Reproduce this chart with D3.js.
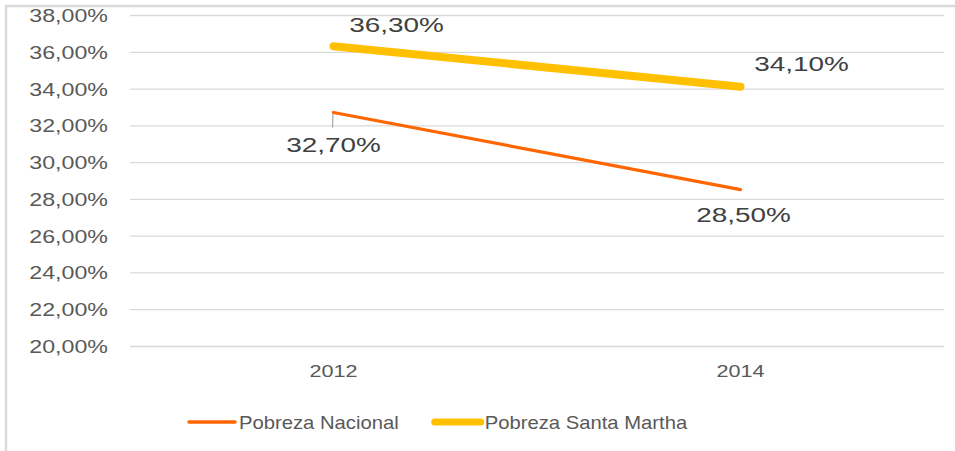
<!DOCTYPE html>
<html>
<head>
<meta charset="utf-8">
<script src="https://cdn.jsdelivr.net/npm/d3@7"></script>
<style>
  html, body { margin: 0; padding: 0; background: #fff; }
  svg { display: block; font-family: "Liberation Sans", Arial, sans-serif; }
</style>
</head>
<body>
<div id="chart"></div>
<script>
( function () {
	'use strict';

	// ─── Data ────────────────────────────────────────────────────────────────
	var years      = [ '2012', '2014' ];
	var nacional   = [ 0.327, 0.285 ];
	var santaMarta = [ 0.363, 0.341 ];
	var yTicks     = [ 0.20, 0.22, 0.24, 0.26, 0.28, 0.30, 0.32, 0.34, 0.36, 0.38 ];
	var seriesNames = [ 'Pobreza Nacional', 'Pobreza Santa Martha' ];

	var COLORS = {
		nacional: '#ff6600',
		santa:    '#ffc000',
		grid:     '#d9d9d9',
		frame:    '#d9d9d9',
		text:     '#595959',
		textDk:   '#404040'
	};

	var width = 955, height = 451;
	var plot = { left: 130, right: 944, top: 15, bottom: 346 };

	var svg = d3.select( '#chart' ).append( 'svg' )
		.attr( 'width', width )
		.attr( 'height', height );

	// frame (top + left edges only visible)
	svg.append( 'line' ).attr( 'x1', 5 ).attr( 'x2', width ).attr( 'y1', 6 ).attr( 'y2', 6 )
		.attr( 'stroke', COLORS.frame ).attr( 'stroke-width', 2.5 );
	svg.append( 'line' ).attr( 'x1', 6 ).attr( 'x2', 6 ).attr( 'y1', 5 ).attr( 'y2', height )
		.attr( 'stroke', COLORS.frame ).attr( 'stroke-width', 2.5 );

	var x = d3.scaleBand().domain( years ).range( [ plot.left, plot.right ] );
	var y = d3.scaleLinear().domain( [ 0.20, 0.38 ] ).range( [ plot.bottom, plot.top ] );
	var fmt = function ( v ) { return d3.format( '.2f' )( v * 100 ).replace( '.', ',' ) + '%'; };
	function cx( d ) { return x( d ) + x.bandwidth() / 2; }

	// ─── Y grid + axis ──────────────────────────────────────────────────────
	svg.append( 'g' )
		.attr( 'transform', 'translate(' + plot.left + ',0)' )
		.call( d3.axisLeft( y ).tickValues( yTicks ).tickSize( -( plot.right - plot.left ) ).tickFormat( fmt ) )
		.call( function ( s ) {
			s.select( '.domain' ).remove();
			s.selectAll( 'line' ).attr( 'stroke', COLORS.grid ).attr( 'stroke-width', 1.3 );
			s.selectAll( 'text' )
				.attr( 'x', 0 )
				.attr( 'dy', '0.36em' )
				.attr( 'transform', 'translate(-22,0) scale(1.29,1)' )
				.attr( 'fill', COLORS.text )
				.style( 'font-size', '18px' )
				.style( 'font-family', '"Liberation Sans", Arial, sans-serif' );
		} );

	// ─── X axis labels ──────────────────────────────────────────────────────
	svg.append( 'g' )
		.attr( 'transform', 'translate(0,' + plot.bottom + ')' )
		.call( d3.axisBottom( x ).tickSize( 0 ).tickPadding( 0 ) )
		.call( function ( s ) {
			s.select( '.domain' ).remove();
			s.selectAll( 'text' )
				.attr( 'y', 0 )
				.attr( 'dy', 0 )
				.attr( 'transform', 'translate(0,31) scale(1.35,1)' )
				.attr( 'fill', COLORS.text )
				.style( 'font-size', '16px' )
				.style( 'font-family', '"Liberation Sans", Arial, sans-serif' );
		} );

	// ─── Lines ──────────────────────────────────────────────────────────────
	var series = [
		{ name: seriesNames[ 0 ], values: nacional,   color: COLORS.nacional, w: 3.2,
			offsets: [ [ 0, 40 ], [ 3, 32 ] ] },
		{ name: seriesNames[ 1 ], values: santaMarta, color: COLORS.santa,    w: 8,
			offsets: [ [ 63, -14 ], [ 61, -16 ] ] }
	];

	var line = d3.line()
		.x( function ( d, i ) { return cx( years[ i ] ); } )
		.y( function ( d ) { return y( d ); } );

	// leader line for 32,70%
	svg.append( 'line' )
		.attr( 'x1', cx( years[ 0 ] ) - 0.5 ).attr( 'x2', cx( years[ 0 ] ) - 1 )
		.attr( 'y1', y( nacional[ 0 ] ) + 1 ).attr( 'y2', y( nacional[ 0 ] ) + 15 )
		.attr( 'stroke', '#a6a6a6' ).attr( 'stroke-width', 1.2 );

	series.forEach( function ( s ) {
		svg.append( 'path' )
			.datum( s.values )
			.attr( 'fill', 'none' )
			.attr( 'stroke', s.color )
			.attr( 'stroke-width', s.w )
			.attr( 'stroke-linecap', 'round' )
			.attr( 'd', line );
	} );

	// ─── Data labels ────────────────────────────────────────────────────────
	series.forEach( function ( s ) {
		s.values.forEach( function ( v, i ) {
			svg.append( 'text' )
				.attr( 'transform', 'translate(' + ( cx( years[ i ] ) + s.offsets[ i ][ 0 ] ) + ',' +
					( y( v ) + s.offsets[ i ][ 1 ] ) + ') scale(1.33,1)' )
				.attr( 'text-anchor', 'middle' )
				.attr( 'fill', COLORS.textDk )
				.style( 'font-size', '21px' )
				.text( d3.format( '.2f' )( v * 100 ).replace( '.', ',' ) + '%' );
		} );
	} );

	// ─── Legend ─────────────────────────────────────────────────────────────
	var lx = 189, ly = 422, sx = 1.125;
	series.forEach( function ( s ) {
		svg.append( 'line' )
			.attr( 'x1', lx ).attr( 'x2', lx + 46 )
			.attr( 'y1', ly ).attr( 'y2', ly )
			.attr( 'stroke', s.color )
			.attr( 'stroke-width', s.w === 8 ? 7 : 3.5 )
			.attr( 'stroke-linecap', 'round' );
		var t = svg.append( 'text' )
			.attr( 'transform', 'translate(' + ( lx + 50 ) + ',' + ( ly + 7 ) + ') scale(' + sx + ',1)' )
			.attr( 'fill', COLORS.text )
			.style( 'font-size', '18px' )
			.text( s.name );
		lx += 50 + t.node().getComputedTextLength() * sx + 36;
	} );
} )();
</script>
</body>
</html>
